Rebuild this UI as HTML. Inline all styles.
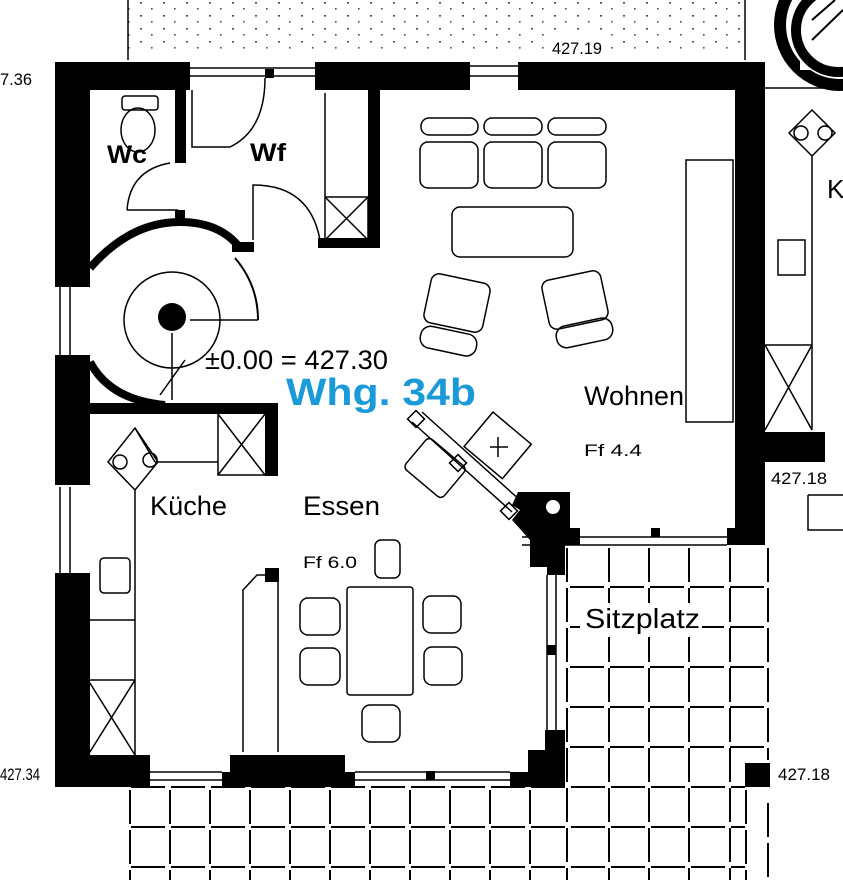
<!DOCTYPE html>
<html><head><meta charset="utf-8"><style>
html,body{margin:0;padding:0;background:#fff;}
svg{display:block;}
text{font-family:"Liberation Sans",sans-serif;fill:#000;}
</style></head><body>
<svg width="843" height="880" viewBox="0 0 843 880" xmlns="http://www.w3.org/2000/svg">
<defs>
<pattern id="dots" width="23" height="13" patternUnits="userSpaceOnUse">
<rect x="2" y="2" width="2" height="1.6" fill="#000"/><rect x="13" y="8" width="1.6" height="1.6" fill="#000"/>
</pattern>
</defs>
<!-- top dotted garden -->
<rect x="128" y="0" width="615" height="52" fill="url(#dots)" opacity="0.7"/>
<line x1="128" y1="0" x2="128" y2="60" stroke="#000" stroke-width="1.5"/>
<line x1="745" y1="0" x2="745" y2="60" stroke="#000" stroke-width="1.5"/>
<rect x="545" y="34" width="62" height="22" fill="#fff"/>
<text x="552" y="54" font-size="17" textLength="50" lengthAdjust="spacingAndGlyphs">427.19</text>
<text x="0" y="85" font-size="17" textLength="32" lengthAdjust="spacingAndGlyphs">7.36</text>
<!-- top right circle -->
<circle cx="840" cy="25" r="60" fill="none" stroke="#000" stroke-width="12"/>
<rect x="800" y="0" width="43" height="70" fill="#fff"/>
<path d="M812 20 L835 0 M812 40 L843 10" stroke="#000" stroke-width="2"/>
<circle cx="838" cy="30" r="42" fill="none" stroke="#000" stroke-width="10"/>

<g fill="#000">
<rect x="55" y="62" width="135" height="28"/>
<rect x="315" y="62" width="155" height="28"/>
<rect x="518" y="62" width="247" height="28"/>
<rect x="55" y="62" width="35" height="225"/>
<rect x="55" y="355" width="35" height="130"/>
<rect x="55" y="573" width="35" height="214"/>
<rect x="175" y="88" width="11" height="75"/>
<rect x="175" y="210" width="10" height="10"/>
<rect x="265" y="69" width="9" height="9"/>
<rect x="368" y="88" width="12" height="160"/>
<rect x="318" y="238" width="62" height="10"/>
<rect x="232" y="242" width="22" height="10"/>
<rect x="88" y="403" width="190" height="11"/>
<rect x="265" y="403" width="13" height="73"/>
<rect x="735" y="62" width="30" height="483"/>
<rect x="765" y="432" width="60" height="30"/>
<rect x="727" y="528" width="38" height="17"/>
<rect x="55" y="755" width="95" height="32"/>
<rect x="222" y="772" width="133" height="15"/>
<rect x="230" y="755" width="115" height="20"/>
<rect x="510" y="772" width="55" height="15"/>
<rect x="528" y="750" width="37" height="25"/>
<rect x="545" y="730" width="20" height="25"/>
<rect x="745" y="763" width="25" height="24"/>
<path d="M518 492 L570 492 L570 528 L580 528 L580 545 L565 545 L565 575 L547 575 L547 567 L530 567 L530 540 L512 520 L520 510 L512 505 Z"/>
<rect x="265" y="568" width="14" height="14"/>
<rect x="651" y="528" width="9" height="9"/>
<rect x="547" y="645" width="9" height="10"/>
<rect x="426" y="771" width="9" height="9"/>
<circle cx="172" cy="317" r="14"/>
</g>
<circle cx="553" cy="507" r="7" fill="#fff"/>

<g fill="none" stroke="#000">
<path d="M90 268 Q130 222 180 222 Q220 222 240 248" stroke-width="8"/>
<path d="M90 362 Q110 400 165 405" stroke-width="8"/>
<path d="M235 258 Q258 285 258 320" stroke-width="2"/>
<circle cx="172" cy="320" r="48" stroke-width="1.5"/>
<path d="M172 333 L172 400 M190 320 L258 320 M160 395 L185 360" stroke-width="1.5"/>
<path d="M190 68 H315 M190 76 H315 M470 66 H518 M470 76 H518 M522 537 H727 M522 545 H727 M60 287 V355 M70 287 V355 M60 487 V573 M70 487 V573 M150 772 H222 M150 780 H222 M355 772 H510 M355 780 H510 M547 575 V730 M556 575 V730" stroke-width="1.5"/>
<path d="M192 90 V147 H230 M230 147 Q265 130 265 78" stroke-width="1.5"/>
<path d="M127 210 Q130 170 170 163 M127 210 H178" stroke-width="1.5"/>
<path d="M253 240 V185 Q310 185 320 240" stroke-width="1.5"/>
<path d="M325 93 V240 M325 197 H368 V240 M325 197 L368 240 M368 197 L325 240" stroke-width="1.5"/>
<rect x="122" y="96" width="36" height="14" rx="3" stroke-width="1.5"/>
<ellipse cx="138" cy="130" rx="17" ry="22" stroke-width="1.5"/>
<path d="M218 414 V475 H265 M218 414 L265 475 M265 414 L218 475 M155 462 H218 M135 428 L155 462 M108 462 L135 428 L158 462 L135 490 Z M135 490 V755 M88 620 H135 M88 680 H135 M88 755 L135 680 M88 680 L135 755" stroke-width="1.5"/>
<circle cx="120" cy="462" r="7" stroke-width="1.5"/><circle cx="150" cy="460" r="7" stroke-width="1.5"/>
<rect x="100" y="558" width="30" height="35" rx="4" stroke-width="1.5"/>
<path d="M243 752 V590 L257 575 H265 M278 582 V752" stroke-width="1.5"/>
<rect x="421" y="118" width="57" height="17" rx="8" stroke-width="1.5"/>
<rect x="484" y="118" width="58" height="17" rx="8" stroke-width="1.5"/>
<rect x="548" y="118" width="58" height="17" rx="8" stroke-width="1.5"/>
<rect x="420" y="142" width="58" height="46" rx="8" stroke-width="1.5"/>
<rect x="484" y="142" width="58" height="46" rx="8" stroke-width="1.5"/>
<rect x="548" y="142" width="58" height="46" rx="8" stroke-width="1.5"/>
<rect x="452" y="207" width="121" height="50" rx="8" stroke-width="1.5"/>
<rect x="427" y="278" width="60" height="50" rx="8" transform="rotate(12 457 303)" stroke-width="1.5"/>
<rect x="420" y="330" width="57" height="22" rx="10" transform="rotate(12 448 341)" stroke-width="1.5"/>
<rect x="545" y="275" width="60" height="50" rx="8" transform="rotate(-12 575 300)" stroke-width="1.5"/>
<rect x="556" y="322" width="57" height="22" rx="10" transform="rotate(-12 584 333)" stroke-width="1.5"/>
<rect x="686" y="160" width="47" height="262" stroke-width="1.5"/>
<path d="M412 422 L512 512 M422 412 L522 502" stroke-width="1.5"/>
<rect x="410" y="413" width="12" height="12" transform="rotate(45 416 419)" stroke-width="1.5"/>
<rect x="452" y="457" width="12" height="12" transform="rotate(45 458 463)" stroke-width="1.5"/>
<rect x="503" y="505" width="12" height="12" transform="rotate(45 509 511)" stroke-width="1.5"/>
<rect x="473" y="423" width="50" height="45" transform="rotate(40 498 445)" stroke-width="1.5"/>
<path d="M490 447 H508 M498 437 V457" stroke-width="1.5"/>
<rect x="410" y="448" width="50" height="40" rx="5" transform="rotate(40 435 468)" stroke-width="1.5"/>
<rect x="375" y="540" width="25" height="38" rx="6" stroke-width="1.5"/>
<rect x="347" y="587" width="66" height="108" rx="3" stroke-width="1.5"/>
<rect x="300" y="598" width="40" height="37" rx="8" stroke-width="1.5"/>
<rect x="300" y="648" width="40" height="37" rx="8" stroke-width="1.5"/>
<rect x="423" y="596" width="38" height="37" rx="8" stroke-width="1.5"/>
<rect x="424" y="647" width="38" height="38" rx="8" stroke-width="1.5"/>
<rect x="362" y="705" width="38" height="37" rx="8" stroke-width="1.5"/>
<path d="M765 88 H843 M812 110 L835 133 L812 156 L789 133 Z M812 156 V430 M778 240 H805 V275 H778 Z M765 345 H812 M765 345 L812 430 M812 345 L765 430 M808 495 H843 M808 495 V530 H843" stroke-width="1.5"/>
<circle cx="801" cy="133" r="7" stroke-width="1.5"/><circle cx="825" cy="133" r="7" stroke-width="1.5"/>
<g stroke-width="2" stroke-dasharray="34 6" stroke-dashoffset="-3">
<path d="M567 545 V880 M609 545 V880 M649 545 V880 M689 545 V880 M730 545 V880 M768 545 V760 M768 800 V880 M746 787 V880"/>
<path d="M567 587 H768 M567 627 H768 M567 667 H768 M567 707 H768 M567 747 H768 M128 787 H745 M128 827 H745 M128 867 H745"/>
<path d="M130 787 V880 M170 787 V880 M210 787 V880 M250 787 V880 M290 787 V880 M330 787 V880 M370 787 V880 M410 787 V880 M450 787 V880 M490 787 V880 M530 787 V880"/>
</g>
</g>
<rect x="580" y="603" width="122" height="34" fill="#fff"/>

<text x="107" y="163" font-size="25" font-weight="bold" textLength="40" lengthAdjust="spacingAndGlyphs">Wc</text>
<text x="250" y="161" font-size="25" font-weight="bold" textLength="36" lengthAdjust="spacingAndGlyphs">Wf</text>
<text x="205" y="369" font-size="27" textLength="183" lengthAdjust="spacingAndGlyphs">±0.00 = 427.30</text>
<text x="286" y="405" font-size="38" font-weight="bold" style="fill:#1a9ad9" textLength="190" lengthAdjust="spacingAndGlyphs">Whg. 34b</text>
<text x="584" y="405" font-size="27" textLength="100" lengthAdjust="spacingAndGlyphs">Wohnen</text>
<text x="584" y="456" font-size="17" textLength="58" lengthAdjust="spacingAndGlyphs">Ff  4.4</text>
<text x="150" y="515" font-size="27" textLength="77" lengthAdjust="spacingAndGlyphs">Küche</text>
<text x="303" y="515" font-size="27" textLength="77" lengthAdjust="spacingAndGlyphs">Essen</text>
<text x="303" y="568" font-size="17" textLength="54" lengthAdjust="spacingAndGlyphs">Ff 6.0</text>
<text x="585" y="628" font-size="28" textLength="115" lengthAdjust="spacingAndGlyphs">Sitzplatz</text>
<text x="827" y="198" font-size="26">K</text>
<text x="771" y="484" font-size="17" textLength="56" lengthAdjust="spacingAndGlyphs">427.18</text>
<text x="778" y="780" font-size="17" textLength="52" lengthAdjust="spacingAndGlyphs">427.18</text>
<text x="0" y="780" font-size="17" textLength="40" lengthAdjust="spacingAndGlyphs">427.34</text>
</svg>
</body></html>
